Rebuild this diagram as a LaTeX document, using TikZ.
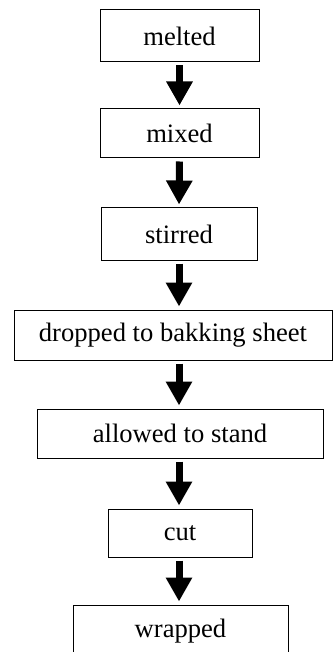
\documentclass[tikz,border=0pt]{standalone}
\usepackage{fontspec}
\setmainfont{Liberation Serif}
\usetikzlibrary{arrows.meta}
\begin{document}
\begin{tikzpicture}[x=1pt,y=-1pt,
  stepbox/.style={draw=black, line width=1pt, fill=white, inner sep=0pt,
    font=\fontsize{26.6}{30}\selectfont},
  arr/.style={line width=7pt, shorten <=3pt, shorten >=3pt,
    -{Triangle[width=25pt,length=24pt]}}]
\useasboundingbox (0,0) rectangle (334,652);
\node[stepbox, minimum width=159pt, minimum height=52pt] (b1) at (179.5,36) {melted};
\node[stepbox, minimum width=159pt, minimum height=49pt] (b2) at (179.5,133.5) {mixed};
\node[stepbox, minimum width=156pt, minimum height=52pt] (b3) at (179,234) {stirred};
\node[stepbox, minimum width=318pt, minimum height=50pt] (b4) at (173,335) {dropped to bakking sheet};
\node[stepbox, minimum width=286pt, minimum height=49pt] (b5) at (180,433.5) {allowed to stand};
\node[stepbox, minimum width=144pt, minimum height=48pt] (b6) at (180,533) {cut};
\node[stepbox, minimum width=215pt, minimum height=60pt, text height=18pt, text depth=14pt] (b7) at (180.5,635) {wrapped};
\draw[arr] (b1.south) -- (b2.north);
\draw[arr] (b2.south) -- (b3.north);
\draw[arr] (b3.south) -- (b4.north -| b3.south);
\draw[arr] (b4.south -| b3.south) -- (b5.north -| b3.south);
\draw[arr] (b5.south -| b3.south) -- (b6.north -| b3.south);
\draw[arr] (b6.south -| b3.south) -- (b7.north -| b3.south);
\end{tikzpicture}
\end{document}
